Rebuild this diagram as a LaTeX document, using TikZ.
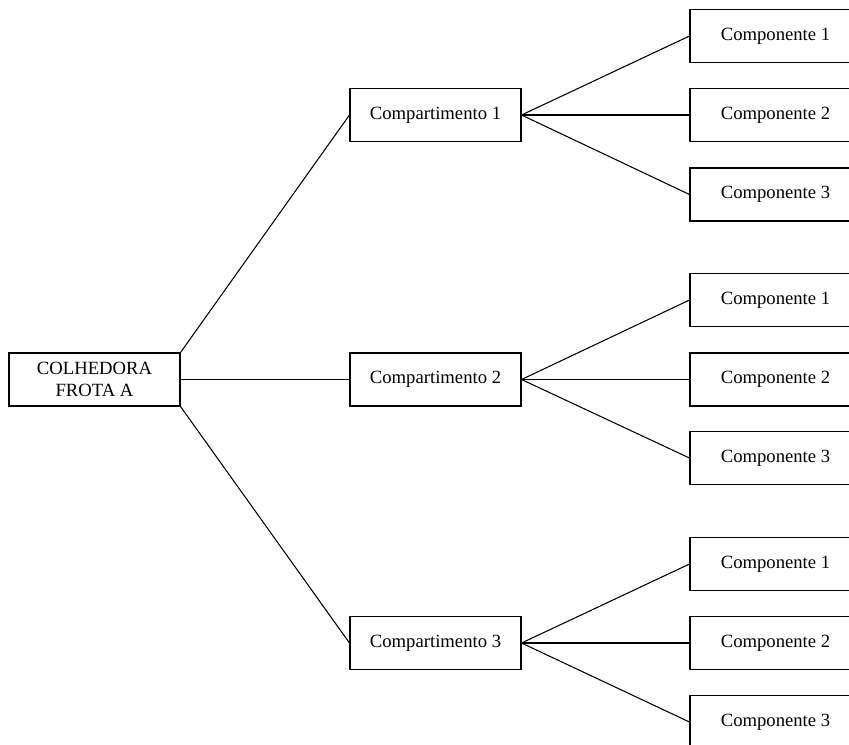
\documentclass[tikz,border=0pt]{standalone}
\usepackage{fontspec}
\setmainfont{Liberation Serif}
\usepackage{tikz}
\usetikzlibrary{positioning}

\tikzset{caixa/.style={draw,line width=.8pt,minimum width=128.25pt,minimum height=39.75pt,inner sep=0pt,align=center,font=\fontsize{14}{16.5}\selectfont}}

\begin{document}
\begin{tikzpicture}[x=.75pt,y=-.75pt]
\useasboundingbox (0,0) rectangle (849,744);
\clip (0,0) rectangle (849,744);
\node[caixa] (colhedora) at (94.5,379.5) {COLHEDORA\\FROTA A};
\node[caixa] (comp1) at (435.5,115) {Compartimento 1};
\node[caixa] (comp2) at (435.5,379.5) {Compartimento 2};
\node[caixa] (comp3) at (435.5,643) {Compartimento 3};
\draw[line width=.8pt] (colhedora.north east) -- (comp1.west);
\draw[line width=.8pt] (colhedora.east) -- (comp2.west);
\draw[line width=.8pt] (colhedora.south east) -- (comp3.west);
\foreach \c/\ya/\yb/\yc in {1/36/115/194.5, 2/300/379.5/458, 3/564/643/722}{
  \node[caixa] (c\c a) at (775.5,\ya) {Componente 1};
  \node[caixa] (c\c b) at (775.5,\yb) {Componente 2};
  \node[caixa] (c\c c) at (775.5,\yc) {Componente 3};
  \draw[line width=.8pt] (comp\c.east) -- (c\c a.west);
  \draw[line width=.8pt] (comp\c.east) -- (c\c b.west);
  \draw[line width=.8pt] (comp\c.east) -- (c\c c.west);
}
\end{tikzpicture}
\end{document}
